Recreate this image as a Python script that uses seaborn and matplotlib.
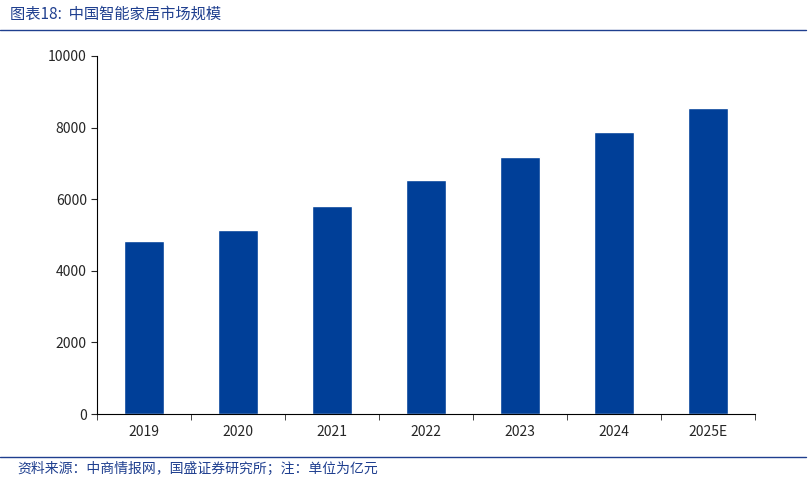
import matplotlib
matplotlib.use("Agg")
from matplotlib import pyplot as plt
from matplotlib.lines import Line2D
import seaborn as sns
import numpy as np

# data
years = ["2019", "2020", "2021", "2022", "2023", "2024", "2025E"]
market_size = [4830, 5140, 5810, 6530, 7180, 7870, 8550]

sns.set_style("ticks")
plt.rcParams['font.family'] = ['Noto Sans CJK SC', 'DejaVu Sans']

fig = plt.figure(figsize=(8.1, 4.82), dpi=100)
ax = fig.add_axes([0.12, 0.141, 0.812, 0.743])

sns.barplot(x=years, y=market_size, color="#003F98", width=0.42, saturation=1, ax=ax)

ax.set_ylim(0, 10000)
ax.set_yticks(np.arange(0, 10001, 2000))
ax.set_xlim(-0.5, len(years) - 0.5)
ax.tick_params(axis="x", length=0, labelsize=10, pad=8)
ax.tick_params(axis="y", labelsize=10, direction="out", length=4)
ax.set_xticks(np.arange(-0.5, len(years)), minor=True)
ax.tick_params(axis="x", which="minor", length=4, direction="out")
for s in ["top", "right"]:
    ax.spines[s].set_visible(False)
for s in ["left", "bottom"]:
    ax.spines[s].set_color("black")
    ax.spines[s].set_linewidth(0.8)

# header / footer
title_color = "#1F3F8F"
fig.text(0.012, 0.97, "图表18:  中国智能家居市场规模", color=title_color, fontsize=11,
         style="italic", va="center", ha="left")
fig.add_artist(Line2D([0.0, 0.995], [0.938, 0.938], color=title_color, lw=1))
fig.add_artist(Line2D([0.0, 0.995], [0.052, 0.052], color=title_color, lw=1))
fig.text(0.022, 0.028, "资料来源：中商情报网，国盛证券研究所；注：单位为亿元", color=title_color,
         fontsize=10, style="italic", va="center", ha="left")

fig.savefig("out.png", dpi=100)
